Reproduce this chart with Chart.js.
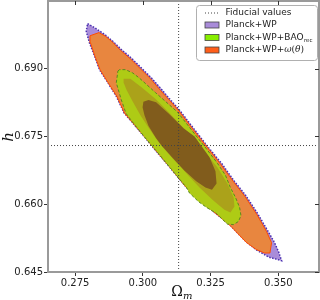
<!DOCTYPE html>
<html lang="en">
<head>
<meta charset="UTF-8">
<title>Omega_m - h contours</title>
<script src="https://cdn.jsdelivr.net/npm/chart.js@4.4.0/dist/chart.umd.min.js"></script>
<style>
  body { margin: 0; background: #fff; }
  #wrap { width: 320px; height: 300px; position: relative; }
</style>
</head>
<body>
<div id="wrap"><canvas id="contours"></canvas></div>
<script>
// axes
const xRange = [0.265, 0.365];
const yRange = [0.645, 0.705];
const xTicks = [0.275, 0.300, 0.325, 0.350];
const yTicks = [0.645, 0.660, 0.675, 0.690];

// fiducial values (dotted cross)
const fiducialOm = 0.3132;
const fiducialH = 0.673;

// contour outlines, [Omega_m, h]
const planckWP = [
  [0.2796, 0.7000], [0.2822, 0.6991], [0.2859, 0.6976], [0.2889, 0.6961], [0.2920, 0.6943],
  [0.2957, 0.6924], [0.2994, 0.6902], [0.3031, 0.6880], [0.3068, 0.6855], [0.3102, 0.6831],
  [0.3132, 0.6811], [0.3187, 0.6768], [0.3240, 0.6727], [0.3290, 0.6691], [0.3335, 0.6653],
  [0.3379, 0.6620], [0.3423, 0.6580], [0.3460, 0.6542], [0.3486, 0.6515], [0.3502, 0.6493],
  [0.3512, 0.6475], [0.3489, 0.6479], [0.3464, 0.6483], [0.3419, 0.6499], [0.3381, 0.6517],
  [0.3320, 0.6555], [0.3246, 0.6591], [0.3198, 0.6615], [0.3157, 0.6640], [0.3102, 0.6680],
  [0.3050, 0.6717], [0.3009, 0.6747], [0.2957, 0.6784], [0.2931, 0.6802], [0.2902, 0.6839],
  [0.2871, 0.6869], [0.2840, 0.6898], [0.2822, 0.6928], [0.2803, 0.6957], [0.2791, 0.6983]
];
const planckWPwt = [
  [0.2805, 0.6973], [0.2838, 0.6980], [0.2862, 0.6972], [0.2888, 0.6959], [0.2917, 0.6941],
  [0.2954, 0.6922], [0.2991, 0.6900], [0.3028, 0.6878], [0.3065, 0.6852], [0.3100, 0.6829],
  [0.3130, 0.6809], [0.3185, 0.6766], [0.3239, 0.6725], [0.3288, 0.6688], [0.3333, 0.6651],
  [0.3377, 0.6617], [0.3421, 0.6577], [0.3456, 0.6540], [0.3475, 0.6515], [0.3469, 0.6492],
  [0.3449, 0.6492], [0.3418, 0.6500], [0.3381, 0.6516], [0.3322, 0.6553], [0.3248, 0.6590],
  [0.3200, 0.6614], [0.3159, 0.6638], [0.3104, 0.6679], [0.3052, 0.6716], [0.3011, 0.6746],
  [0.2959, 0.6783], [0.2933, 0.6801], [0.2904, 0.6839], [0.2873, 0.6868], [0.2842, 0.6898],
  [0.2823, 0.6928], [0.2807, 0.6957]
];
const planckWPbao2 = [
  [0.2908, 0.6895], [0.2914, 0.6898], [0.2936, 0.6898], [0.2962, 0.6891], [0.2988, 0.6879],
  [0.3047, 0.6847], [0.3098, 0.6820], [0.3128, 0.6804], [0.3183, 0.6762], [0.3233, 0.6724],
  [0.3275, 0.6691], [0.3305, 0.6664], [0.3323, 0.6637], [0.3342, 0.6615], [0.3357, 0.6593],
  [0.3362, 0.6575], [0.3353, 0.6562], [0.3335, 0.6555], [0.3312, 0.6556], [0.3271, 0.6580],
  [0.3235, 0.6593], [0.3205, 0.6606], [0.3172, 0.6625], [0.3161, 0.6637], [0.3106, 0.6677],
  [0.3054, 0.6715], [0.3013, 0.6744], [0.2962, 0.6782], [0.2938, 0.6801], [0.2920, 0.6832],
  [0.2902, 0.6869]
];
const planckWPbao1 = [
  [0.2929, 0.6878], [0.2954, 0.6878], [0.2995, 0.6859], [0.3047, 0.6833], [0.3098, 0.6802],
  [0.3168, 0.6758], [0.3227, 0.6717], [0.3275, 0.6682], [0.3312, 0.6646], [0.3335, 0.6615],
  [0.3338, 0.6595], [0.3323, 0.6582], [0.3301, 0.6588], [0.3261, 0.6608], [0.3209, 0.6637],
  [0.3157, 0.6671], [0.3106, 0.6704], [0.3061, 0.6735], [0.3025, 0.6766], [0.2991, 0.6797],
  [0.2962, 0.6828], [0.2940, 0.6853], [0.2930, 0.6868]
];
const overlap1 = [
  [0.3002, 0.6827], [0.3021, 0.6831], [0.3049, 0.6826], [0.3098, 0.6799], [0.3150, 0.6768],
  [0.3191, 0.6750], [0.3246, 0.6704], [0.3268, 0.6673], [0.3272, 0.6646], [0.3255, 0.6632],
  [0.3231, 0.6637], [0.3197, 0.6651], [0.3154, 0.6674], [0.3111, 0.6702], [0.3069, 0.6730],
  [0.3049, 0.6746], [0.3021, 0.6773], [0.3006, 0.6797], [0.2999, 0.6815]
];

function contour(label, pts, fillColor, lineColor, dash, width) {
  return {
    label: label,
    data: pts.concat([pts[0]]).map(p => ({ x: p[0], y: p[1] })),
    showLine: true,
    fill: 'shape',
    backgroundColor: fillColor,
    borderColor: lineColor,
    borderDash: dash,
    borderWidth: width,
    pointRadius: 0,
    tension: 0
  };
}

function fiducialLine(pts) {
  return {
    data: pts.map(p => ({ x: p[0], y: p[1] })),
    showLine: true,
    fill: false,
    borderColor: '#444',
    borderDash: [1, 2],
    borderWidth: 1,
    pointRadius: 0
  };
}

// legend, axis titles and mirrored frame, drawn by hand
const decorations = {
  id: 'decorations',
  afterDraw(chart) {
    const ctx = chart.ctx;
    const a = chart.chartArea;
    const xs = chart.scales.x, ys = chart.scales.y;
    ctx.save();

    // frame
    ctx.strokeStyle = '#9a9a9a';
    ctx.lineWidth = 2;
    ctx.strokeRect(a.left, a.top, a.right - a.left, a.bottom - a.top);
    ctx.strokeStyle = '#333';
    ctx.lineWidth = 1;
    ctx.beginPath();
    xTicks.forEach(v => {
      const px = Math.round(xs.getPixelForValue(v)) + 0.5;
      ctx.moveTo(px, a.top); ctx.lineTo(px, a.top + 4);
    });
    yTicks.forEach(v => {
      const py = Math.round(ys.getPixelForValue(v)) + 0.5;
      ctx.moveTo(a.right, py); ctx.lineTo(a.right - 4, py);
    });
    ctx.stroke();

    // axis titles
    ctx.fillStyle = '#111';
    ctx.textBaseline = 'middle';
    ctx.textAlign = 'center';
    ctx.save();
    ctx.translate(9, 137);
    ctx.rotate(-Math.PI / 2);
    ctx.font = 'italic 15px "DejaVu Serif"';
    ctx.fillText('h', 0, 0);
    ctx.restore();
    ctx.font = '14px "DejaVu Serif"';
    ctx.textBaseline = 'alphabetic';
    ctx.fillText('Ω', 177, 296);
    ctx.textAlign = 'left';
    ctx.font = 'italic 10px "DejaVu Serif"';
    ctx.fillText('m', 183, 299);

    // legend box
    const bx = 196.5, by = 5.5, bw = 121, bh = 55;
    ctx.beginPath();
    ctx.roundRect(bx, by, bw, bh, 3);
    ctx.fillStyle = '#fff';
    ctx.fill();
    ctx.strokeStyle = '#b0b0b0';
    ctx.lineWidth = 1;
    ctx.stroke();

    const rows = [12.5, 25, 37.5, 50];
    const sx = 205, sw = 14, tx = 225.5;
    // fiducial entry
    ctx.strokeStyle = '#444';
    ctx.setLineDash([1, 2]);
    ctx.beginPath();
    ctx.moveTo(sx, rows[0] + 0.5); ctx.lineTo(sx + sw, rows[0] + 0.5);
    ctx.stroke();
    ctx.setLineDash([]);

    const swatches = ['#a98cd9', '#88ee00', '#ff5e1a'];
    swatches.forEach((c, i) => {
      const y = rows[i + 1];
      ctx.fillStyle = c;
      ctx.fillRect(sx, y - 3, sw, 6);
      ctx.strokeStyle = '#444';
      ctx.lineWidth = 0.8;
      ctx.strokeRect(sx, y - 3, sw, 6);
    });

    ctx.fillStyle = '#222';
    ctx.textBaseline = 'middle';
    ctx.textAlign = 'left';
    ctx.font = '9px "DejaVu Sans"';
    ctx.fillText('Fiducial values', tx, rows[0]);
    ctx.fillText('Planck+WP', tx, rows[1]);
    ctx.fillText('Planck+WP+BAO', tx, rows[2]);
    let w = ctx.measureText('Planck+WP+BAO').width;
    ctx.font = '5.5px "DejaVu Sans"';
    ctx.fillText('rec', tx + w + 0.5, rows[2] + 3);
    ctx.font = '9px "DejaVu Sans"';
    ctx.fillText('Planck+WP+', tx, rows[3]);
    let x = tx + ctx.measureText('Planck+WP+').width;
    ctx.font = 'italic 9px "DejaVu Serif"';
    ctx.fillText('ω', x, rows[3]);
    x += ctx.measureText('ω').width;
    ctx.font = '9px "DejaVu Serif"';
    ctx.fillText('(', x, rows[3]);
    x += ctx.measureText('(').width;
    ctx.font = 'italic 9px "DejaVu Serif"';
    ctx.fillText('θ', x, rows[3]);
    x += ctx.measureText('θ').width;
    ctx.font = '9px "DejaVu Serif"';
    ctx.fillText(')', x, rows[3]);

    ctx.restore();
  }
};

const ctx = document.getElementById('contours').getContext('2d');
const chart = new Chart(ctx, {
  type: 'scatter',
  data: {
    datasets: [
      fiducialLine([[fiducialOm, yRange[0]], [fiducialOm, yRange[1]]]),
      fiducialLine([[xRange[0], fiducialH], [xRange[1], fiducialH]]),
      contour('overlap 1sigma', overlap1, '#815c1c', '#815c1c', [], 0),
      contour('Planck+WP+BAO 1sigma', planckWPbao1, '#aba21a', '#aba21a', [], 0),
      contour('Planck+WP+BAOrec', planckWPbao2, '#aecb15', '#5a8a1e', [3, 2], 1),
      contour('Planck+WP+w(theta)', planckWPwt, '#e8863f', '#ff4d00', [], 1),
      contour('Planck+WP', planckWP, '#a98cd9', '#4a30b0', [1.5, 1.5], 1.5)
    ]
  },
  options: {
    responsive: true,
    maintainAspectRatio: false,
    animation: false,
    devicePixelRatio: 1,
    layout: { padding: { top: 1, right: 1, left: 0, bottom: 0 } },
    plugins: {
      legend: { display: false },
      tooltip: { enabled: false }
    },
    scales: {
      x: {
        type: 'linear',
        min: xRange[0],
        max: xRange[1],
        afterBuildTicks: s => { s.ticks = xTicks.map(v => ({ value: v })); },
        afterFit: s => { s.height = 28; s.paddingLeft = 0; s.paddingRight = 0; },
        ticks: {
          callback: v => v.toFixed(3),
          font: { family: 'DejaVu Sans', size: 10 },
          color: '#222',
          padding: 1,
          maxRotation: 0
        },
        grid: { drawOnChartArea: false, tickLength: 4, color: '#333' },
        border: { color: '#9a9a9a', width: 2 }
      },
      y: {
        type: 'linear',
        min: yRange[0],
        max: yRange[1],
        afterBuildTicks: s => { s.ticks = yTicks.map(v => ({ value: v })); },
        afterFit: s => { s.width = 48; s.paddingTop = 0; s.paddingBottom = 0; },
        ticks: {
          callback: v => v.toFixed(3),
          font: { family: 'DejaVu Sans', size: 10 },
          color: '#222',
          padding: 1
        },
        grid: { drawOnChartArea: false, tickLength: 4, color: '#333' },
        border: { color: '#9a9a9a', width: 2 }
      }
    }
  },
  plugins: [decorations]
});
</script>
</body>
</html>
